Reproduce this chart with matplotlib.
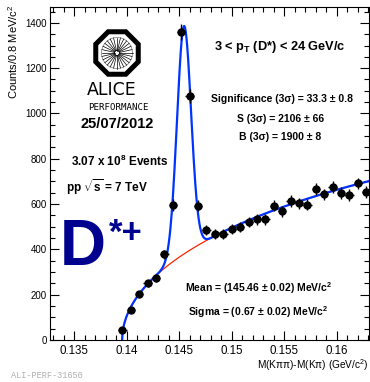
import numpy as np
import matplotlib
matplotlib.use("Agg")
import matplotlib.pyplot as plt
from matplotlib.patches import RegularPolygon, Circle
from matplotlib.ticker import MultipleLocator, FixedLocator, FixedFormatter

plt.rcParams['font.family'] = ['Liberation Sans', 'DejaVu Sans']
plt.rcParams['mathtext.fontset'] = 'custom'
plt.rcParams['mathtext.rm'] = 'Liberation Sans'
plt.rcParams['mathtext.bf'] = 'Liberation Sans:bold'
plt.rcParams['mathtext.it'] = 'Liberation Sans:italic'

# D*+ candidates: bin centres of M(Kpipi)-M(Kpi) in GeV/c^2 and entries per 0.8 MeV/c^2 bin
mass = [0.1396, 0.1404, 0.1412, 0.1420, 0.1428, 0.1436, 0.1444, 0.1452, 0.1460, 0.1468,
        0.1476, 0.1484, 0.1492, 0.1500, 0.1508, 0.1516, 0.1524, 0.1532, 0.1540, 0.1548,
        0.1556, 0.1564, 0.1572, 0.1580, 0.1588, 0.1596, 0.1604, 0.1612, 0.1620, 0.1628]
counts = [44, 132, 202, 250, 272, 379, 596, 1360, 1077, 593,
          485, 467, 467, 488, 500, 520, 532, 532, 592, 568,
          614, 604, 598, 666, 643, 676, 650, 640, 691, 654]
bin_width = 0.0008

# fit parameters: Gaussian signal on a threshold background
mean = 0.14546
sigma = 0.00067
signal_yield = 2106
bkg_norm = 5085.0
bkg_slope = -4.5
m_pion = 0.13957

xticks = [0.135, 0.14, 0.145, 0.15, 0.155, 0.16]
xtick_labels = ['0.135', '0.14', '0.145', '0.15', '0.155', '0.16']
yticks = [0, 200, 400, 600, 800, 1000, 1200, 1400]
ytick_labels = ['0', '200', '400', '600', '800', '1000', '1200', '1400']

W, H = 370, 382
fig = plt.figure(figsize=(W / 100, H / 100), dpi=100)


def box(x0, y0, x1, y1):
    return [x0 / W, 1 - y1 / H, (x1 - x0) / W, (y1 - y0) / H]


def ftext(x, y, s, **kw):
    return fig.text(x / W, 1 - y / H, s, **kw)


ax = fig.add_axes(box(50, 7, 369.5, 340))
ax.set_xlim(0.1327, 0.16312)
ax.set_ylim(0, 1470)

# fit curves
xf = np.linspace(m_pion, 0.16312, 800)
bkg = bkg_norm * np.sqrt(xf - m_pion) * np.exp(bkg_slope * (xf - m_pion))
amp = signal_yield / 0.9973 * bin_width / (np.sqrt(2 * np.pi) * sigma)
total = bkg + amp * np.exp(-0.5 * ((xf - mean) / sigma) ** 2)
ax.plot(xf, bkg, color='#ff2200', lw=0.9, zorder=2)
ax.plot(xf, total, color='#0033ff', lw=1.6, zorder=2.5)

ax.errorbar(mass, counts, yerr=np.sqrt(counts), xerr=bin_width / 2, fmt='o',
            color='black', ms=5, elinewidth=1.0, capsize=0, zorder=3)

ax.xaxis.set_major_locator(FixedLocator(xticks))
ax.xaxis.set_major_formatter(FixedFormatter(xtick_labels))
ax.xaxis.set_minor_locator(MultipleLocator(0.001))
ax.yaxis.set_major_locator(FixedLocator(yticks))
ax.yaxis.set_major_formatter(FixedFormatter(ytick_labels))
ax.yaxis.set_minor_locator(MultipleLocator(50))
ax.tick_params(which='both', direction='in', top=True, right=True, width=0.8,
               colors='black')
ax.tick_params(which='major', length=6.5)
ax.tick_params(which='minor', length=3.3)
ax.tick_params(axis='x', pad=3.5, labelsize=8.3)
ax.tick_params(axis='y', pad=2.5, labelsize=7.0)
for sp in ax.spines.values():
    sp.set_linewidth(0.8)

# axis titles
ftext(13, 5, 'Counts/0.8 MeV/c$^2$', rotation=90, ha='center', va='top', fontsize=8.0)
ftext(368.5, 365, 'M(Kππ)-M(Kπ) (GeV/c$^2$)', ha='right', va='center', fontsize=7.3)

# annotations
bold = dict(weight='bold', ha='center', va='center', color='black')
ftext(280, 46.7, r'3 < p$_{\mathbf{T}}$ (D*) < 24 GeV/c', fontsize=9.2, **bold)
ftext(281.7, 99.3, 'Significance (3σ) = 33.3 ± 0.8', fontsize=7.5, **bold)
ftext(281, 119, 'S (3σ) = 2106 ± 66', fontsize=7.5, **bold)
ftext(280.5, 137.3, 'B (3σ) = 1900 ± 8', fontsize=7.5, **bold)
ftext(258.5, 287.7, r'Mean = (145.46 ± 0.02) MeV/c$^{\mathbf{2}}$', fontsize=7.5, **bold)
ftext(258, 312, r'Sigma = (0.67 ± 0.02) MeV/c$^{\mathbf{2}}$', fontsize=7.5, **bold)
ftext(119.5, 161.7, r'3.07 x 10$^{\mathbf{8}}$ Events', fontsize=8.5, **bold)
ftext(107.5, 187.3, r'pp $\sqrt{\mathbf{s}}$ = 7 TeV', fontsize=8.5, **bold)
ftext(117.5, 123.7, '25/07/2012', fontsize=10.5, **bold)

# particle label
navy = '#00008f'
ftext(82.5, 248, 'D', fontsize=46, weight='bold', color=navy, ha='center', va='center')
ftext(126, 234, '*+', fontsize=25, weight='bold', color=navy, ha='center', va='center')

# experiment logo
ftext(112, 90, 'ALICE', fontsize=12.5, family='DejaVu Sans', ha='center', va='center')
ftext(118, 107, 'PERFORMANCE', fontsize=6.6, family='DejaVu Sans Mono', ha='center', va='center')

lax = fig.add_axes(box(89, 25, 145, 81))
lax.set_xlim(-28, 28)
lax.set_ylim(-28, 28)
lax.axis('off')
lax.add_patch(RegularPolygon((0, 0), 8, radius=23.0, orientation=np.pi / 8,
                             fc='white', ec='black', lw=3.6))
for th in np.linspace(0, 2 * np.pi, 28, endpoint=False):
    lax.plot([2.5 * np.cos(th), 15.5 * np.cos(th)], [2.5 * np.sin(th), 15.5 * np.sin(th)],
             color='black', lw=0.5)
lax.add_patch(Circle((0, 0), 15.5, fc='none', ec='#555555', lw=0.4))
lax.add_patch(Circle((0, 0), 2.5, fc='white', ec='black', lw=0.5))

# figure identifier
ftext(11, 375.7, 'ALI-PERF-31650', family='Liberation Mono', color='#b0b0b0',
      fontsize=6.2, ha='left', va='center')

fig.savefig('out.png', dpi=100)
